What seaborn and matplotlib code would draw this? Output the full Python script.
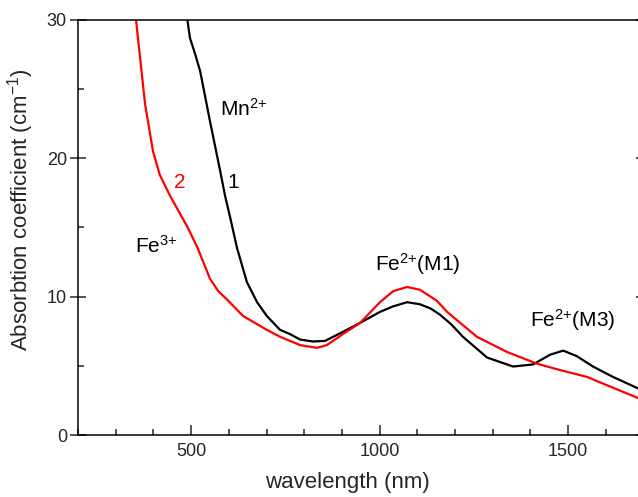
import numpy as np
import pandas as pd
import matplotlib
matplotlib.use("Agg")
import matplotlib.pyplot as plt
import seaborn as sns
from matplotlib.ticker import MultipleLocator

# ---- data ----
wl_1 = [485, 497, 510, 524, 550, 577, 590, 603, 622, 648, 675, 701, 736, 762, 789, 823,
        855, 895, 948, 1001, 1036, 1073, 1107, 1135, 1160, 1190, 1221, 1285, 1354, 1407,
        1452, 1487, 1523, 1566, 1619, 1683, 1700]
abs_1 = [31.0, 28.7, 27.6, 26.3, 22.7, 19.1, 17.3, 15.8, 13.5, 11.05, 9.6, 8.6, 7.6, 7.3,
         6.9, 6.76, 6.8, 7.35, 8.1, 8.9, 9.3, 9.6, 9.45, 9.15, 8.7, 8.0, 7.1, 5.6, 4.95,
         5.1, 5.8, 6.1, 5.7, 4.95, 4.2, 3.4, 3.2]

wl_2 = [350, 359, 378, 399, 417, 444, 489, 516, 550, 572, 595, 638, 701, 736, 789, 834,
        860, 903, 948, 1001, 1036, 1073, 1107, 1152, 1179, 1258, 1338, 1418, 1478,
        1550, 1603, 1683, 1700]
abs_2 = [31.0, 28.7, 23.9, 20.5, 18.8, 17.3, 15.1, 13.6, 11.3, 10.4, 9.8, 8.6, 7.6, 7.1,
         6.5, 6.3, 6.5, 7.3, 8.1, 9.6, 10.4, 10.7, 10.5, 9.7, 8.9, 7.1, 6.0, 5.15,
         4.7, 4.2, 3.6, 2.7, 2.5]

x_ticks = [500, 1000, 1500]
y_ticks = [0, 10, 20, 30]

# ---- style ----
sns.set_theme(style="ticks")
plt.rcParams["font.family"] = ["Liberation Sans", "DejaVu Sans"]
plt.rcParams["mathtext.fontset"] = "custom"
plt.rcParams["mathtext.rm"] = "Liberation Sans"
plt.rcParams["mathtext.it"] = "Liberation Sans:italic"

fig = plt.figure(figsize=(6.38, 4.97), dpi=100)
ax = fig.add_axes([78 / 638, 62 / 497, 565.5 / 638, 415 / 497])

df1 = pd.DataFrame({"wavelength": wl_1, "absorption": abs_1})
df2 = pd.DataFrame({"wavelength": wl_2, "absorption": abs_2})
sns.lineplot(data=df1, x="wavelength", y="absorption", ax=ax, color="black",
             lw=1.6, sort=False, estimator=None)
sns.lineplot(data=df2, x="wavelength", y="absorption", ax=ax, color="#ff0000",
             lw=1.6, sort=False, estimator=None)

ax.set_xlim(200, 1700)
ax.set_ylim(0, 30)
ax.set_xticks(x_ticks)
ax.set_yticks(y_ticks)
ax.xaxis.set_minor_locator(MultipleLocator(100))
ax.yaxis.set_minor_locator(MultipleLocator(5))

for s in ax.spines.values():
    s.set_visible(True)
    s.set_linewidth(1.1)
    s.set_color("black")

ax.tick_params(axis="x", which="major", direction="in", length=7, width=1.1,
               labelsize=13, pad=6, top=False)
ax.tick_params(axis="x", which="minor", direction="in", length=4, width=1.1, top=False)
ax.tick_params(axis="y", which="major", direction="inout", length=12, width=1.1,
               labelsize=13, pad=2, right=True)
ax.tick_params(axis="y", which="minor", direction="in", length=4, width=1.1, right=False)

ax.set_xlabel("wavelength (nm)", fontsize=16)
ax.set_ylabel("Absorbtion coefficient (cm$^{{-}1}$)", fontsize=16)
ax.xaxis.set_label_coords(0.477, -0.09)
ax.yaxis.set_label_coords(-0.075, 0.542)

fs = 15
ax.text(577, 23.1, "Mn$^{2{+}}$", fontsize=fs, color="black", ha="left", va="baseline")
ax.text(611, 18.25, "1", fontsize=fs, color="black", ha="center", va="center")
ax.text(470, 18.25, "2", fontsize=fs, color="#ff0000", ha="center", va="center")
ax.text(351, 13.2, "Fe$^{3{+}}$", fontsize=fs, color="black", ha="left", va="baseline")
ax.text(988, 11.9, "Fe$^{2{+}}$(M1)", fontsize=fs, color="black", ha="left", va="baseline")
ax.text(1399, 7.85, "Fe$^{2{+}}$(M3)", fontsize=fs, color="black", ha="left", va="baseline")

fig.savefig("out.png", dpi=100)
